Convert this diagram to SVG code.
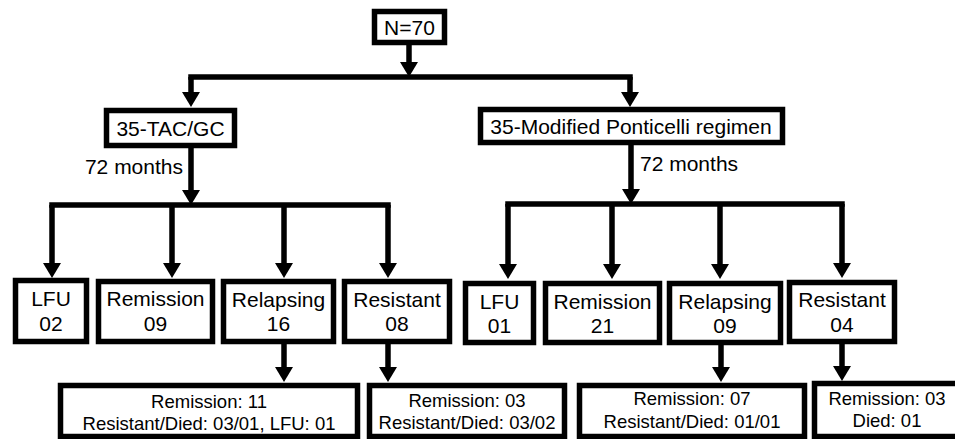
<svg xmlns="http://www.w3.org/2000/svg" width="955" height="439" viewBox="0 0 955 439">
<style>
.box{fill:#fff;stroke:#000;stroke-width:5.5}
.t{font-family:"Liberation Sans",Arial,sans-serif;font-size:21px;fill:#000;text-anchor:middle}
.s{font-family:"Liberation Sans",Arial,sans-serif;font-size:18.5px;fill:#000;text-anchor:middle}
.c{fill:none;stroke:#000;stroke-width:5.5}
.bar{fill:none;stroke:#000;stroke-width:5.5;stroke-linecap:square}
</style>
<defs>
<marker id="ah" markerUnits="userSpaceOnUse" markerWidth="16" markerHeight="20" refX="0" refY="10" orient="auto" viewBox="0 0 16 20">
<path d="M0,1 L15,10 L0,19 z" fill="#000"/>
</marker>
</defs>
<rect width="955" height="439" fill="#fff"/>
<g id="connectors">
<path class="c" d="M409,45 V62" marker-end="url(#ah)"/>
<path class="bar" d="M191,77 H630"/>
<path class="c" d="M191,77 V92" marker-end="url(#ah)"/>
<path class="c" d="M630,77 V92" marker-end="url(#ah)"/>
<path class="c" d="M191,148 V190" marker-end="url(#ah)"/>
<path class="bar" d="M52,205 H388"/>
<path class="c" d="M52,205 V263" marker-end="url(#ah)"/>
<path class="c" d="M172,205 V263" marker-end="url(#ah)"/>
<path class="c" d="M284,205 V263" marker-end="url(#ah)"/>
<path class="c" d="M388,205 V263" marker-end="url(#ah)"/>
<path class="c" d="M631,145 V189" marker-end="url(#ah)"/>
<path class="bar" d="M508,204 H842"/>
<path class="c" d="M508,204 V264" marker-end="url(#ah)"/>
<path class="c" d="M612,204 V264" marker-end="url(#ah)"/>
<path class="c" d="M720,204 V264" marker-end="url(#ah)"/>
<path class="c" d="M842,204 V263" marker-end="url(#ah)"/>
<path class="c" d="M284,344 V367" marker-end="url(#ah)"/>
<path class="c" d="M388,344 V367" marker-end="url(#ah)"/>
<path class="c" d="M721,345 V367" marker-end="url(#ah)"/>
<path class="c" d="M842,344 V366" marker-end="url(#ah)"/>
</g>
<g id="label-72-left"><text class="t" x="183" y="174" style="text-anchor:end">72 months</text></g>
<g id="label-72-right"><text class="t" x="640" y="171" style="text-anchor:start">72 months</text></g>
<g id="n70"><rect class="box" x="374.5" y="11.5" width="70" height="31"/><text class="t" x="409.5" y="35">N=70</text></g>
<g id="tacgc"><rect class="box" x="106.5" y="110.5" width="128" height="35"/><text class="t" x="170.5" y="136">35-TAC/GC</text></g>
<g id="ponticelli"><rect class="box" x="480.5" y="109.5" width="302" height="33"/><text class="t" x="631" y="134">35-Modified Ponticelli regimen</text></g>
<g id="l-lfu"><rect class="box" x="15.5" y="280.5" width="71" height="61"/><text class="t" x="51" y="306">LFU</text><text class="t" x="51" y="331">02</text></g>
<g id="l-remission"><rect class="box" x="98.5" y="281.5" width="114" height="60"/><text class="t" x="155.5" y="306">Remission</text><text class="t" x="155.5" y="331">09</text></g>
<g id="l-relapsing"><rect class="box" x="223.5" y="281.5" width="110" height="60"/><text class="t" x="278.5" y="307">Relapsing</text><text class="t" x="278.5" y="331">16</text></g>
<g id="l-resistant"><rect class="box" x="344.5" y="281.5" width="105" height="60"/><text class="t" x="397" y="307">Resistant</text><text class="t" x="397" y="331">08</text></g>
<g id="r-lfu"><rect class="box" x="465.5" y="283.5" width="68" height="59"/><text class="t" x="499.5" y="309">LFU</text><text class="t" x="499.5" y="333">01</text></g>
<g id="r-remission"><rect class="box" x="545.5" y="283.5" width="114" height="59"/><text class="t" x="602.5" y="309">Remission</text><text class="t" x="602.5" y="333">21</text></g>
<g id="r-relapsing"><rect class="box" x="669.5" y="283.5" width="111" height="59"/><text class="t" x="725" y="309">Relapsing</text><text class="t" x="725" y="333">09</text></g>
<g id="r-resistant"><rect class="box" x="789.5" y="282.5" width="105" height="59"/><text class="t" x="842" y="307">Resistant</text><text class="t" x="842" y="332">04</text></g>
<g id="l-relapse-out"><rect class="box" x="60.5" y="385.5" width="297" height="51"/><text class="s" x="209" y="408">Remission: 11</text><text class="s" x="209" y="430">Resistant/Died: 03/01, LFU: 01</text></g>
<g id="l-resist-out"><rect class="box" x="369.5" y="385.5" width="195" height="51"/><text class="s" x="467" y="407">Remission: 03</text><text class="s" x="467" y="429">Resistant/Died: 03/02</text></g>
<g id="r-relapse-out"><rect class="box" x="579.5" y="385.5" width="225" height="51"/><text class="s" x="692" y="405">Remission: 07</text><text class="s" x="692" y="428">Resistant/Died: 01/01</text></g>
<g id="r-resist-out"><rect class="box" x="814.5" y="383.5" width="150" height="53"/><text class="s" x="887" y="405">Remission: 03</text><text class="s" x="887" y="427">Died: 01</text></g>
</svg>
